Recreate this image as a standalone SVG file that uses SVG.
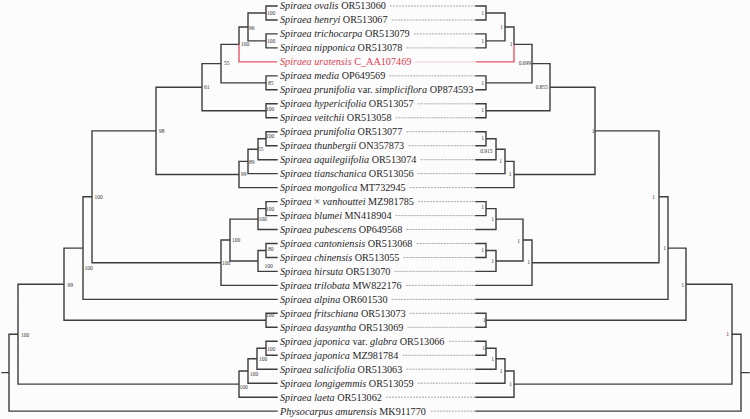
<svg xmlns="http://www.w3.org/2000/svg" width="750" height="419" viewBox="0 0 750 419">
<style>
.br{fill:none;stroke:#3d3d3d;stroke-width:1.4;stroke-linecap:square}
.red{fill:none;stroke:#e5566a;stroke-width:1.4}
.dash{fill:none;stroke:#8c8c8c;stroke-width:0.75;stroke-dasharray:2 1}
.tx{font-family:"Liberation Serif","Times New Roman",serif;font-size:10.2px;fill:#1e1e1e}
.tx .i{font-style:italic}
.rt{fill:#e03c4e}
.bs{font-family:"Liberation Serif","Times New Roman",serif;font-size:5.5px;fill:#333}
.be{text-anchor:end}
</style>
<rect width="750" height="419" fill="#fdfcfd"/>
<g id="links">
<path class="dash" d="M390 6H476M391.7 20H476M413.8 33.9H476M406.4 47.9H476M389.4 75.9H476M417.7 103.8H476M395.6 117.8H476M406.4 131.7H476M408.7 145.7H476M420.6 159.7H476M417.7 173.6H476M409.8 187.6H476M418.1 201.6H476M395.6 215.6H476M406.4 229.5H476M416.6 243.5H476M403.6 257.5H476M394.5 271.4H476M405.8 285.4H476M391.7 299.4H476M409.8 313.3H476M407.5 327.3H476M449.2 341.3H476M402.4 355.3H476M406.4 369.2H476M417.7 383.2H476M386 397.2H476M430.8 411.1H476"/>
<path class="dash" d="M415.5 61.9H476" style="stroke:#e59aa5"/>
</g>
<g id="left-tree">
<path class="br" d="M277 6H266V20H277M277 33.9H266V47.9H277M266 13H248V40.9H266M248 27H239V44.4M277 75.9H266V89.8H277M239 44.4H221V82.9H266M277 103.8H266V117.8H277M221 63.6H202V110.8H266M277 131.7H266V145.7H277M266 138.7H258V159.7H277M258 149.2H248V173.6H277M248 161.4H239V187.6H277M202 87.2H156V174.5H239M277 201.6H266V215.6H277M266 208.6H258V229.5H277M277 243.5H266V257.5H277M266 250.5H258V271.4H277M258 219.1H230V261H258M230 240H221V285.4H277M156 130.9H92V262.7H221M92 196.8H83V299.4H277M277 313.3H266V327.3H277M83 248.1H64V320.3H266M277 341.3H266V355.3H277M266 348.3H257V369.2H277M257 358.8H248V383.2H277M248 371H239V397.2H277M64 284.2H18V384.1H239M18 334.2H9V411.1H277M2 372.6H9"/>
<path class="red" d="M239 44.4V61.9H277"/>
</g>
<g id="right-tree">
<path class="br" d="M476 6H486V20H476M476 33.9H486V47.9H476M486 13H505V40.9H486M505 27H514V44.4M476 75.9H486V89.8H476M514 44.4H532V82.9H486M476 103.8H486V117.8H476M532 63.6H550V110.8H486M476 131.7H486V145.7H476M486 138.7H496V159.7H476M496 149.2H505V173.6H476M505 161.4H514V187.6H476M550 87.2H595V174.5H514M476 201.6H486V215.6H476M486 208.6H496V229.5H476M476 243.5H486V257.5H476M486 250.5H496V271.4H476M496 219.1H523V261H496M523 240H532V285.4H476M595 130.9H659V262.7H532M659 196.8H668V299.4H476M476 313.3H486V327.3H476M668 248.1H686V320.3H486M476 341.3H486V355.3H476M486 348.3H496V369.2H476M496 358.8H505V383.2H476M505 371H514V397.2H476M686 284.2H732V384.1H514M732 334.2H741V411.1H476M741 372.6H749"/>
<path class="red" d="M514 44.4V61.9H476"/>
</g>
<g id="left-support">
<text class="bs" x="267" y="15">100</text>
<text class="bs" x="249" y="30">96</text>
<text class="bs" x="267" y="43">100</text>
<text class="bs" x="241" y="46">100</text>
<text class="bs" x="224" y="65">55</text>
<text class="bs" x="268" y="85">85</text>
<text class="bs" x="204" y="89">61</text>
<text class="bs" x="266" y="111">100</text>
<text class="bs" x="159" y="133">98</text>
<text class="bs" x="266" y="138">100</text>
<text class="bs" x="258" y="151">55</text>
<text class="bs" x="249" y="163.5">89</text>
<text class="bs" x="241" y="176">99</text>
<text class="bs" x="266" y="211">100</text>
<text class="bs" x="258.5" y="221">100</text>
<text class="bs" x="268" y="251">80</text>
<text class="bs" x="264.5" y="268">100</text>
<text class="bs" x="232" y="241.5">100</text>
<text class="bs" x="222" y="265">100</text>
<text class="bs" x="94.5" y="198.5">100</text>
<text class="bs" x="84.5" y="270">100</text>
<text class="bs" x="67.5" y="287">99</text>
<text class="bs" x="266" y="317">100</text>
<text class="bs" x="267" y="351">100</text>
<text class="bs" x="259" y="361">100</text>
<text class="bs" x="250" y="375.5">100</text>
<text class="bs" x="239.5" y="389">100</text>
<text class="bs" x="21" y="337">100</text>
</g>
<g id="right-support">
<text class="bs be" x="484" y="15.3">1</text>
<text class="bs be" x="503" y="28.7">1</text>
<text class="bs be" x="484" y="43">1</text>
<text class="bs be" x="512.5" y="46.3">1</text>
<text class="bs be" x="531" y="65.3">0.699</text>
<text class="bs be" x="484" y="85">1</text>
<text class="bs be" x="548" y="88.7">0.855</text>
<text class="bs be" x="484" y="112">1</text>
<text class="bs be" x="594.5" y="133">1</text>
<text class="bs be" x="484" y="140.3">1</text>
<text class="bs be" x="492.5" y="152.7">0.915</text>
<text class="bs be" x="502" y="163">1</text>
<text class="bs be" x="511.5" y="176.3">1</text>
<text class="bs be" x="655" y="198.7">1</text>
<text class="bs be" x="484" y="209.3">1</text>
<text class="bs be" x="494" y="221">1</text>
<text class="bs be" x="484" y="252">1</text>
<text class="bs be" x="494" y="262.7">1</text>
<text class="bs be" x="520" y="242.7">1</text>
<text class="bs be" x="530" y="264">1</text>
<text class="bs be" x="666" y="250.3">1</text>
<text class="bs be" x="684" y="287">1</text>
<text class="bs be" x="485.5" y="322">1</text>
<text class="bs be" x="485" y="349.7">1</text>
<text class="bs be" x="494" y="361">1</text>
<text class="bs be" x="502.5" y="373">1</text>
<text class="bs be" x="512" y="385.7">1</text>
<text class="bs be" x="729" y="336.3">1</text>
</g>
<g id="taxa">
<g id="t00"><text class="tx" x="280" y="9.4"><tspan class="i">Spiraea ovalis</tspan> OR513060</text></g>
<g id="t01"><text class="tx" x="280" y="23.4"><tspan class="i">Spiraea henryi</tspan> OR513067</text></g>
<g id="t02"><text class="tx" x="280" y="37.3"><tspan class="i">Spiraea trichocarpa</tspan> OR513079</text></g>
<g id="t03"><text class="tx" x="280" y="51.3"><tspan class="i">Spiraea nipponica</tspan> OR513078</text></g>
<g id="t04"><text class="tx rt" x="280" y="65.3"><tspan class="i">Spiraea uratensis</tspan> C_AA107469</text></g>
<g id="t05"><text class="tx" x="280" y="79.3"><tspan class="i">Spiraea media</tspan> OP649569</text></g>
<g id="t06"><text class="tx" x="280" y="93.2"><tspan class="i">Spiraea prunifolia</tspan> var. <tspan class="i">simpliciflora</tspan> OP874593</text></g>
<g id="t07"><text class="tx" x="280" y="107.2"><tspan class="i">Spiraea hypericifolia</tspan> OR513057</text></g>
<g id="t08"><text class="tx" x="280" y="121.2"><tspan class="i">Spiraea veitchii</tspan> OR513058</text></g>
<g id="t09"><text class="tx" x="280" y="135.1"><tspan class="i">Spiraea prunifolia</tspan> OR513077</text></g>
<g id="t10"><text class="tx" x="280" y="149.1"><tspan class="i">Spiraea thunbergii</tspan> ON357873</text></g>
<g id="t11"><text class="tx" x="280" y="163.1"><tspan class="i">Spiraea aquilegiifolia</tspan> OR513074</text></g>
<g id="t12"><text class="tx" x="280" y="177"><tspan class="i">Spiraea tianschanica</tspan> OR513056</text></g>
<g id="t13"><text class="tx" x="280" y="191"><tspan class="i">Spiraea mongolica</tspan> MT732945</text></g>
<g id="t14"><text class="tx" x="280" y="205"><tspan class="i">Spiraea</tspan> × <tspan class="i">vanhouttei</tspan> MZ981785</text></g>
<g id="t15"><text class="tx" x="280" y="219"><tspan class="i">Spiraea blumei</tspan> MN418904</text></g>
<g id="t16"><text class="tx" x="280" y="232.9"><tspan class="i">Spiraea pubescens</tspan> OP649568</text></g>
<g id="t17"><text class="tx" x="280" y="246.9"><tspan class="i">Spiraea cantoniensis</tspan> OR513068</text></g>
<g id="t18"><text class="tx" x="280" y="260.9"><tspan class="i">Spiraea chinensis</tspan> OR513055</text></g>
<g id="t19"><text class="tx" x="280" y="274.8"><tspan class="i">Spiraea hirsuta</tspan> OR513070</text></g>
<g id="t20"><text class="tx" x="280" y="288.8"><tspan class="i">Spiraea trilobata</tspan> MW822176</text></g>
<g id="t21"><text class="tx" x="280" y="302.8"><tspan class="i">Spiraea alpina</tspan> OR601530</text></g>
<g id="t22"><text class="tx" x="280" y="316.7"><tspan class="i">Spiraea fritschiana</tspan> OR513073</text></g>
<g id="t23"><text class="tx" x="280" y="330.7"><tspan class="i">Spiraea dasyantha</tspan> OR513069</text></g>
<g id="t24"><text class="tx" x="280" y="344.7"><tspan class="i">Spiraea japonica</tspan> var. <tspan class="i">glabra</tspan> OR513066</text></g>
<g id="t25"><text class="tx" x="280" y="358.7"><tspan class="i">Spiraea japonica</tspan> MZ981784</text></g>
<g id="t26"><text class="tx" x="280" y="372.6"><tspan class="i">Spiraea salicifolia</tspan> OR513063</text></g>
<g id="t27"><text class="tx" x="280" y="386.6"><tspan class="i">Spiraea longigemmis</tspan> OR513059</text></g>
<g id="t28"><text class="tx" x="280" y="400.6"><tspan class="i">Spiraea laeta</tspan> OR513062</text></g>
<g id="t29"><text class="tx" x="280" y="414.5"><tspan class="i">Physocarpus amurensis</tspan> MK911770</text></g>
</g>
</svg>
